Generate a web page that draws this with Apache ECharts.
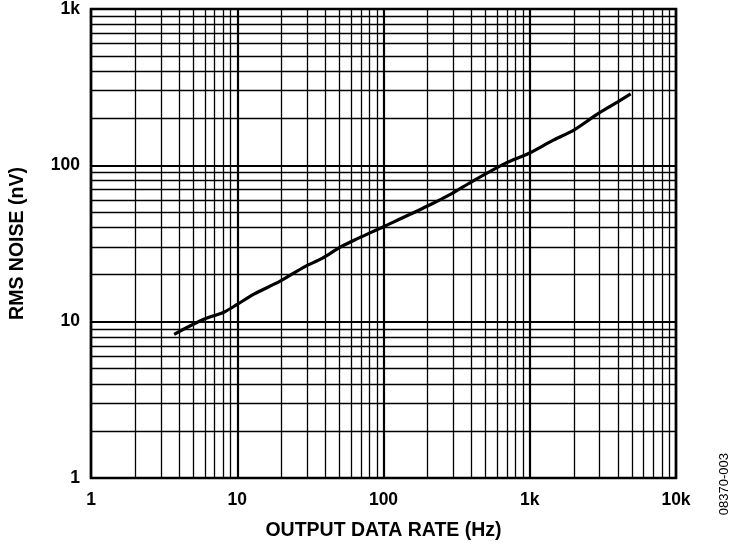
<!DOCTYPE html>
<html>
<head>
<meta charset="utf-8">
<script src="https://cdn.jsdelivr.net/npm/echarts@6/dist/echarts.min.js"></script>
<style>
html,body{margin:0;padding:0;background:#fff;}
#c{width:735px;height:546px;}
</style>
</head>
<body>
<div id="c"></div>
<script>
// Output data rate (Hz)
var rateHz = [3.7, 5.9, 8.1, 10, 13, 19.5, 29, 38, 51, 67, 100, 200, 295, 400, 680, 980, 1450, 2000, 2950, 4000, 4900];
// RMS noise (nV)
var noiseNv = [8.3, 10.35, 11.5, 12.9, 15.0, 18.1, 22.5, 25.4, 30.1, 34.1, 40.5, 54.9, 66.2, 78.5, 103, 119, 145, 168, 215, 255, 286];

var xMin = 1, xMax = 10000, yMin = 1, yMax = 1000;
var minorMultipliers = [2, 3, 4, 5, 6, 7, 8, 9];
var xDecades = [1, 10, 100, 1000];
var yDecades = [1, 10, 100];

function tickLabel(v) {
  if (v >= 1000) return (v / 1000) + 'k';
  return String(v);
}

var minorLines = [];
xDecades.forEach(function (d) {
  minorMultipliers.forEach(function (m) { minorLines.push({ xAxis: m * d }); });
});
yDecades.forEach(function (d) {
  minorMultipliers.forEach(function (m) { minorLines.push({ yAxis: m * d }); });
});

var chart = echarts.init(document.getElementById('c'));
var font = 'Liberation Sans, Arial, sans-serif';
chart.setOption({
  animation: false,
  backgroundColor: '#fff',
  grid: { left: 90, top: 9, right: 59, bottom: 68, show: true, borderColor: '#000', borderWidth: 2.6, backgroundColor: 'transparent' },
  xAxis: {
    type: 'log', logBase: 10, min: xMin, max: xMax,
    name: 'OUTPUT DATA RATE (Hz)', nameLocation: 'middle', nameGap: 43,
    nameTextStyle: { fontFamily: font, fontWeight: 'bold', fontSize: 19.5, color: '#000' },
    axisLine: { show: false },
    axisTick: { show: false },
    axisLabel: { formatter: tickLabel, fontFamily: font, fontWeight: 'bold', fontSize: 17.5, color: '#000', margin: 13 },
    splitLine: { show: true, lineStyle: { color: '#000', width: 2.2 } },
    minorSplitLine: { show: false }
  },
  yAxis: {
    type: 'log', logBase: 10, min: yMin, max: yMax,
    name: 'RMS NOISE (nV)', nameLocation: 'middle', nameGap: 63, nameRotate: 90,
    nameTextStyle: { fontFamily: font, fontWeight: 'bold', fontSize: 19.5, color: '#000' },
    axisLine: { show: false },
    axisTick: { show: false },
    axisLabel: { formatter: tickLabel, fontFamily: font, fontWeight: 'bold', fontSize: 17.5, color: '#000', margin: 11 },
    splitLine: { show: true, lineStyle: { color: '#000', width: 2.2 } }
  },
  graphic: [{
    type: 'text', left: 718, top: 453, rotation: Math.PI / 2,
    style: { text: '08370-003', fontFamily: font, fontSize: 13, fill: '#000' }
  }],
  series: [{
    type: 'line',
    data: [],
    silent: true,
    markLine: {
      silent: true, symbol: ['none', 'none'], animation: false,
      label: { show: false },
      lineStyle: { color: '#000', width: 1.3, type: 'solid' },
      emphasis: { disabled: true },
      data: minorLines
    }
  }, {
    type: 'line',
    data: rateHz.map(function (x, i) { return [x, noiseNv[i]]; }),
    showSymbol: false, smooth: 0.3,
    lineStyle: { color: '#000', width: 3.2 },
    z: 5
  }]
});
</script>
</body>
</html>
